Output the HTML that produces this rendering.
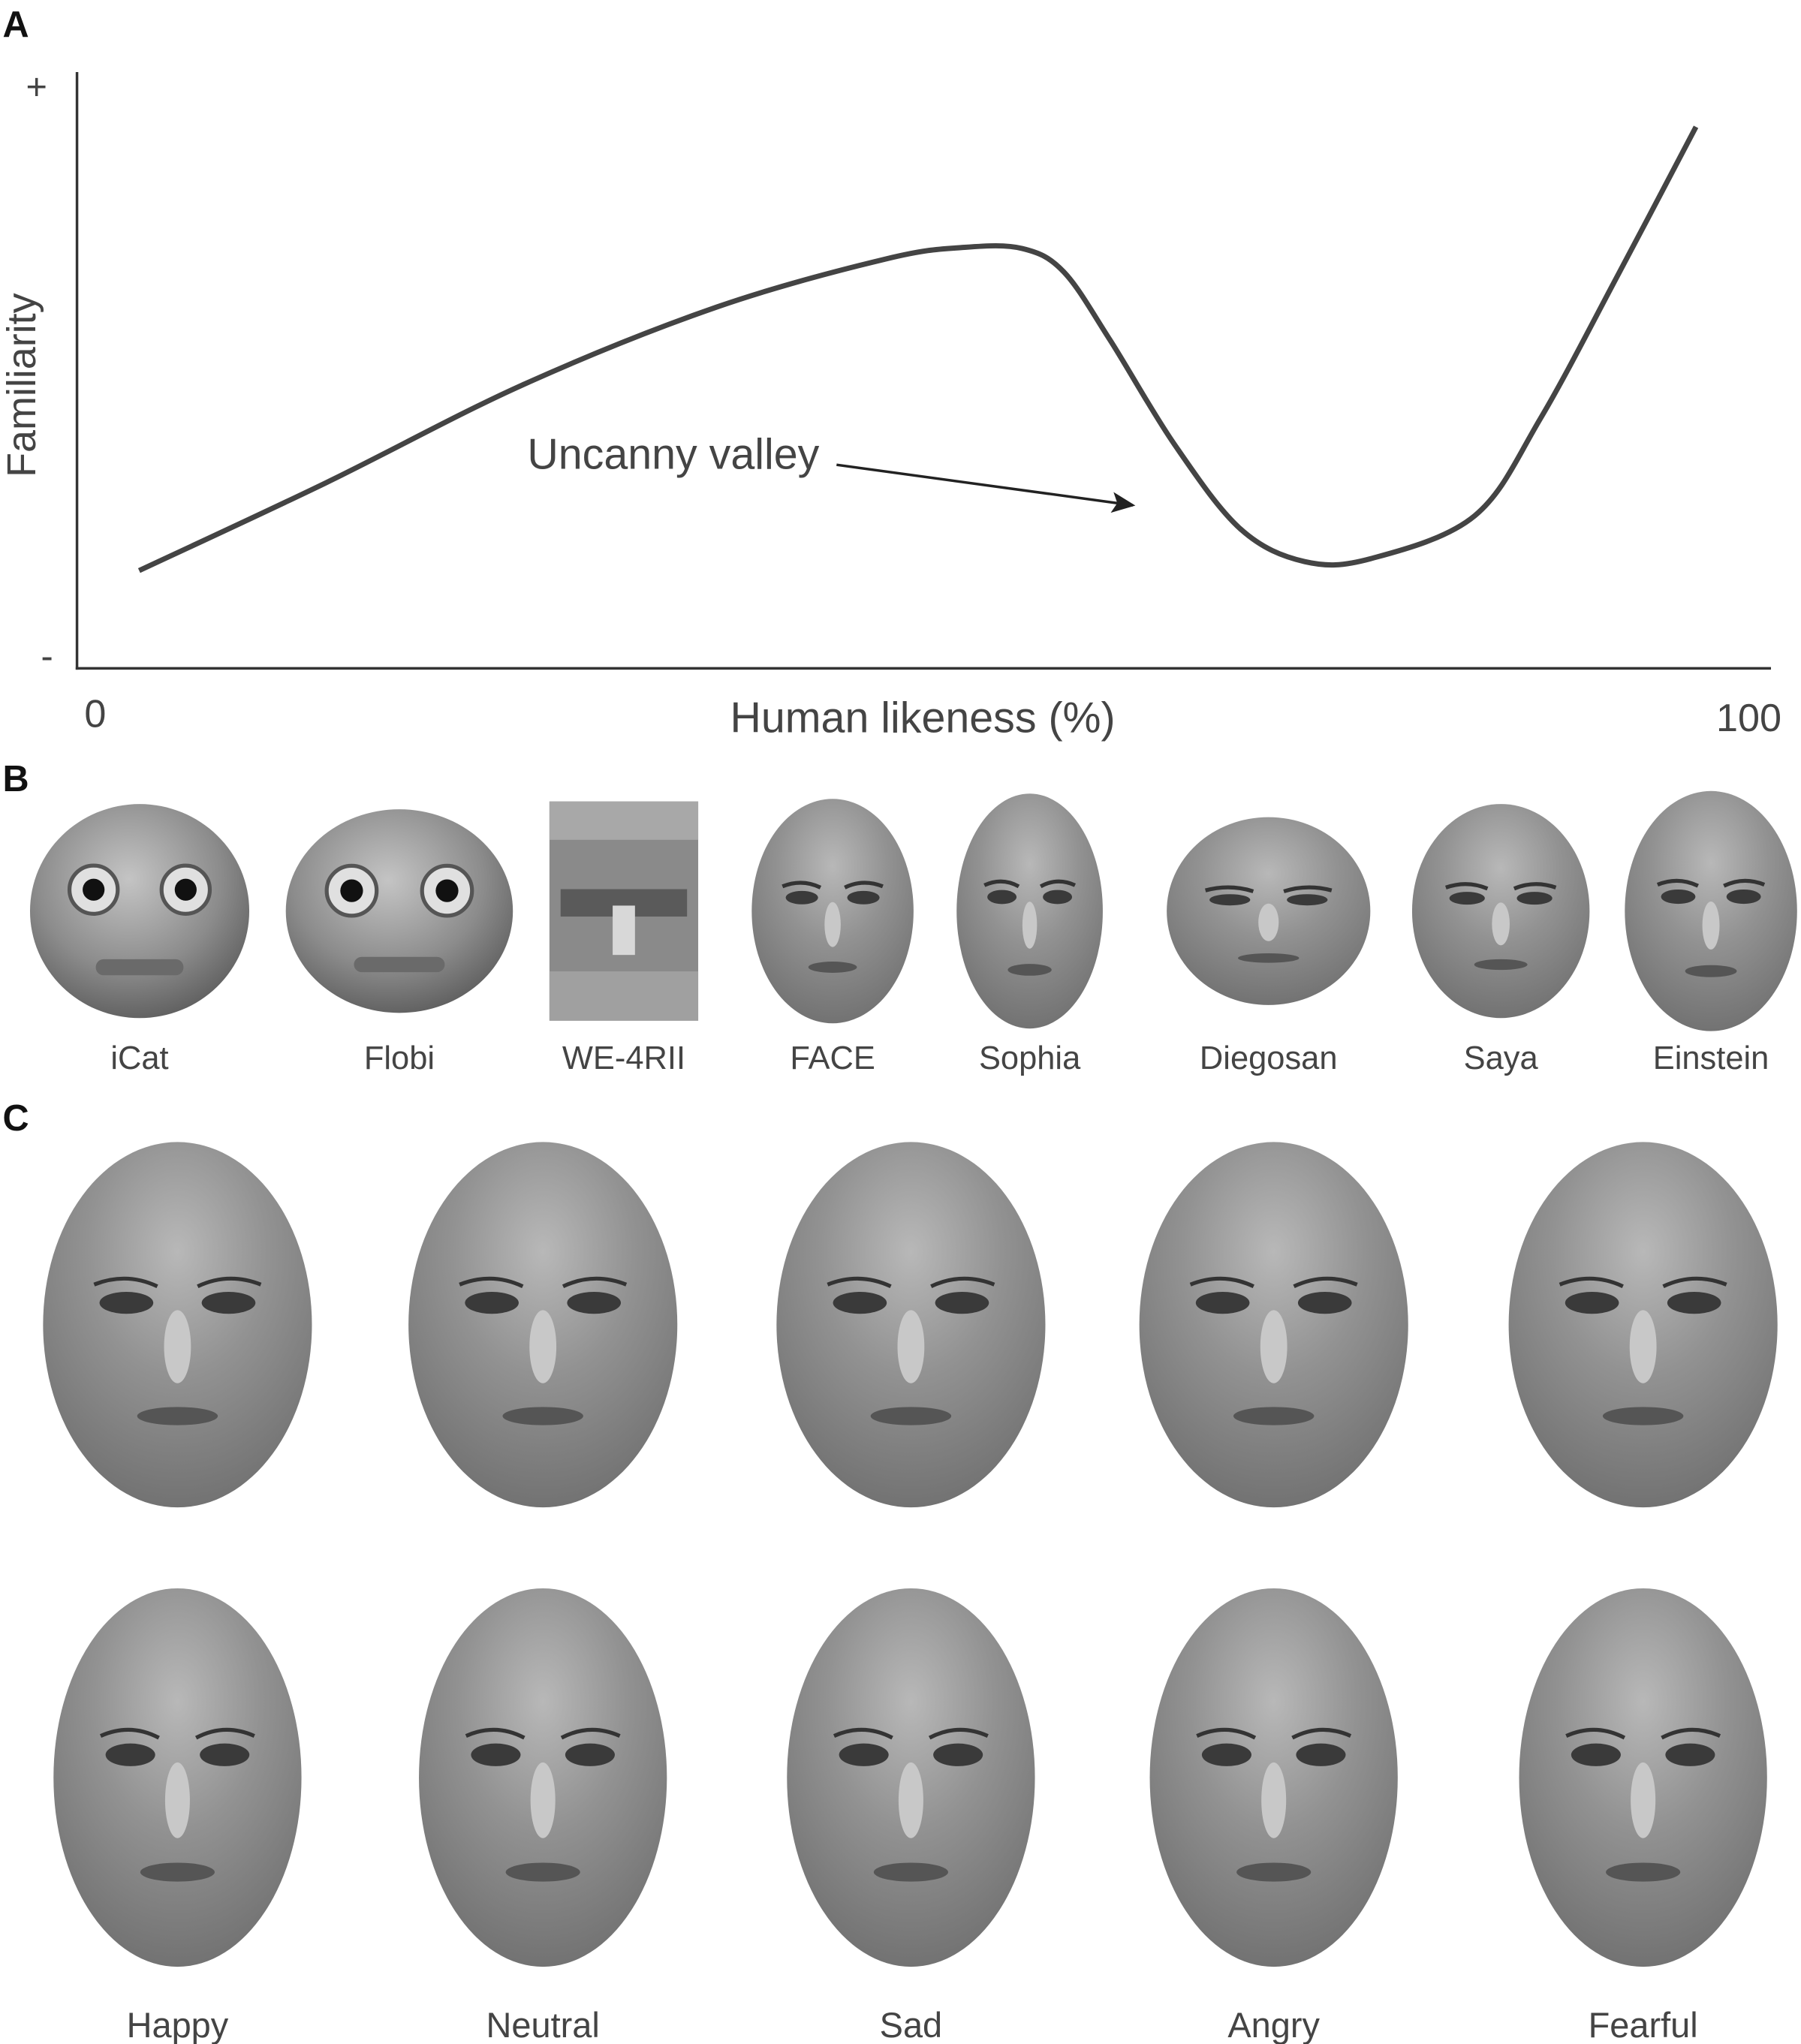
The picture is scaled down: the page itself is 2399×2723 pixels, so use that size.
<!DOCTYPE html>
<html><head><meta charset="utf-8">
<style>
html,body{margin:0;padding:0;background:#fff;}
svg{display:block;}
text{font-family:"Liberation Sans",Arial,sans-serif;fill:#444;}
</style></head>
<body>
<svg id="fig" width="2399" height="2723" viewBox="0 0 1380 1566" xmlns="http://www.w3.org/2000/svg">
<defs>
<radialGradient id="faceGrad" cx="0.5" cy="0.3" r="0.75">
<stop offset="0" stop-color="#b8b8b8"/>
<stop offset="0.45" stop-color="#929292"/>
<stop offset="1" stop-color="#6e6e6e"/>
</radialGradient>
<radialGradient id="robotGrad" cx="0.45" cy="0.35" r="0.7">
<stop offset="0" stop-color="#c4c4c4"/>
<stop offset="0.6" stop-color="#8c8c8c"/>
<stop offset="1" stop-color="#5a5a5a"/>
</radialGradient>
<marker id="arrowHead" markerWidth="18" markerHeight="16" refX="16" refY="8" orient="auto" markerUnits="userSpaceOnUse">
<path d="M0,0 L18,8 L0,16 L4,8 Z" fill="#222"/>
</marker>
</defs>

<text x="2" y="28" font-size="28" font-weight="bold" style="fill:#111">A</text>
<text x="2" y="606" font-size="28" font-weight="bold" style="fill:#111">B</text>
<text x="2" y="866" font-size="28" font-weight="bold" style="fill:#111">C</text>

<g>
<line x1="59" y1="55" x2="59" y2="513" stroke="#333" stroke-width="2"/>
<line x1="58" y1="512" x2="1357" y2="512" stroke="#333" stroke-width="2"/>
<text x="28" y="76" font-size="28" text-anchor="middle">+</text>
<text x="36" y="512" font-size="28" text-anchor="middle">-</text>
<text x="0" y="0" font-size="31" text-anchor="middle" transform="translate(27,295) rotate(-90)">Familiarity</text>
<text x="73" y="557" font-size="30" text-anchor="middle">0</text>
<text x="707" y="561" font-size="33" text-anchor="middle">Human likeness (%)</text>
<text x="1340" y="560" font-size="30" text-anchor="middle">100</text>
<path id="curve" fill="none" stroke="#444" stroke-width="4"/>
<text x="404" y="359" font-size="33">Uncanny valley</text>
<line x1="641" y1="356" x2="868" y2="387" stroke="#222" stroke-width="2" marker-end="url(#arrowHead)"/>
</g>

<g id="panelB"></g>
<g id="panelC"></g>
</svg>
<script>
// Chart A data (x: human likeness %, y: familiarity 0-100)
const likeness = [2.5, 13.8, 25.7, 37.5, 47.8, 52.5, 56.0, 58.5, 61.3, 65.2, 69.2, 73.1, 77.1, 83.4, 87.4, 92.1, 96.8];
const familiarity = [16.4, 31.1, 47.5, 60.6, 68.7, 70.6, 70.4, 66.5, 55.1, 37.6, 23.4, 17.9, 18.4, 25.6, 42.0, 66.1, 90.8];
const robotNames = ["iCat", "Flobi", "WE-4RII", "FACE", "Sophia", "Diegosan", "Saya", "Einstein"];
const emotionNames = ["Happy", "Neutral", "Sad", "Angry", "Fearful"];

const NS = "http://www.w3.org/2000/svg";
const xScale = v => 75 + v * 12.65;
const yScale = v => 512 - v * 4.57;

const pts = likeness.map((v, i) => [xScale(v), yScale(familiarity[i])]);
let d = "M" + pts[0][0] + "," + pts[0][1];
for (let i = 0; i < pts.length - 1; i++) {
  const p0 = pts[Math.max(i - 1, 0)], p1 = pts[i], p2 = pts[i + 1], p3 = pts[Math.min(i + 2, pts.length - 1)];
  const c1 = [p1[0] + (p2[0] - p0[0]) / 6, p1[1] + (p2[1] - p0[1]) / 6];
  const c2 = [p2[0] - (p3[0] - p1[0]) / 6, p2[1] - (p3[1] - p1[1]) / 6];
  d += " C" + c1[0] + "," + c1[1] + " " + c2[0] + "," + c2[1] + " " + p2[0] + "," + p2[1];
}
document.getElementById("curve").setAttribute("d", d);

function mk(tag, attrs, parent) {
  const e = document.createElementNS(NS, tag);
  for (const k in attrs) e.setAttribute(k, attrs[k]);
  parent.appendChild(e);
  return e;
}

function drawFace(parent, cx, cy, rx, ry, name, kind) {
  const g = mk("g", {}, parent);
  
  
  const grad = kind === "robot" ? "url(#robotGrad)" : "url(#faceGrad)";
  if (kind === "rect") {
    mk("rect", {x: cx - rx, y: cy - ry, width: rx * 2, height: ry * 2, fill: "#8a8a8a"}, g);
    mk("rect", {x: cx - rx, y: cy - ry, width: rx * 2, height: ry * 0.35, fill: "#a8a8a8"}, g);
    mk("rect", {x: cx - rx * 0.85, y: cy - ry * 0.2, width: rx * 1.7, height: ry * 0.25, fill: "#5a5a5a"}, g);
    mk("rect", {x: cx - rx * 0.15, y: cy - ry * 0.05, width: rx * 0.3, height: ry * 0.45, fill: "#d8d8d8"}, g);
    mk("rect", {x: cx - rx, y: cy + ry * 0.55, width: rx * 2, height: ry * 0.45, fill: "#a0a0a0"}, g);
    return;
  }
  mk("ellipse", {cx: cx, cy: cy, rx: rx, ry: ry, fill: grad}, g);
  if (kind === "robot") {
    mk("circle", {cx: cx - rx * 0.42, cy: cy - ry * 0.2, r: rx * 0.22, fill: "#e0e0e0", stroke: "#555", "stroke-width": 3}, g);
    mk("circle", {cx: cx + rx * 0.42, cy: cy - ry * 0.2, r: rx * 0.22, fill: "#e0e0e0", stroke: "#555", "stroke-width": 3}, g);
    mk("circle", {cx: cx - rx * 0.42, cy: cy - ry * 0.2, r: rx * 0.1, fill: "#111"}, g);
    mk("circle", {cx: cx + rx * 0.42, cy: cy - ry * 0.2, r: rx * 0.1, fill: "#111"}, g);
    mk("rect", {x: cx - rx * 0.4, y: cy + ry * 0.45, width: rx * 0.8, height: ry * 0.15, rx: 6, fill: "#6a6a6a"}, g);
    return;
  }
  const ey = cy - ry * 0.12;
  mk("ellipse", {cx: cx - rx * 0.38, cy: ey, rx: rx * 0.2, ry: ry * 0.06, fill: "#3a3a3a"}, g);
  mk("ellipse", {cx: cx + rx * 0.38, cy: ey, rx: rx * 0.2, ry: ry * 0.06, fill: "#3a3a3a"}, g);
  mk("path", {d: `M${cx - rx * 0.62},${ey - ry * 0.1} Q${cx - rx * 0.38},${ey - ry * 0.17} ${cx - rx * 0.15},${ey - ry * 0.09}`, stroke: "#333", "stroke-width": 3, fill: "none"}, g);
  mk("path", {d: `M${cx + rx * 0.15},${ey - ry * 0.09} Q${cx + rx * 0.38},${ey - ry * 0.17} ${cx + rx * 0.62},${ey - ry * 0.1}`, stroke: "#333", "stroke-width": 3, fill: "none"}, g);
  mk("ellipse", {cx: cx, cy: cy + ry * 0.12, rx: rx * 0.1, ry: ry * 0.2, fill: "#c8c8c8"}, g);
  mk("ellipse", {cx: cx, cy: cy + ry * 0.5, rx: rx * 0.3, ry: ry * 0.05, fill: "#555"}, g);
}

const panelB = document.getElementById("panelB");
const robotX = [107, 306, 478, 638, 789, 972, 1150, 1311];
const robotShape = [[84, 82, "robot"], [87, 78, "robot"], [57, 84, "rect"], [62, 86, "human"], [56, 90, "human"], [78, 72, "human"], [68, 82, "human"], [66, 92, "human"]];
robotNames.forEach((n, i) => {
  const s = robotShape[i];
  drawFace(panelB, robotX[i], 698, s[0], s[1], "robot-face-" + n.toLowerCase(), s[2]);
  const t = mk("text", {x: robotX[i], y: 819, "font-size": 25, "text-anchor": "middle"}, panelB);
  
  
  t.textContent = n;
});

const panelC = document.getElementById("panelC");
const emoX = [136, 416, 698, 976, 1259];
emotionNames.forEach((n, i) => {
  drawFace(panelC, emoX[i], 1015, 103, 140, "human-face-" + n.toLowerCase(), "human");
  drawFace(panelC, emoX[i], 1362, 95, 145, "android-face-" + n.toLowerCase(), "human");
  const t = mk("text", {x: emoX[i], y: 1561, "font-size": 27, "text-anchor": "middle"}, panelC);
  
  
  t.textContent = n;
});
</script>
</body></html>
